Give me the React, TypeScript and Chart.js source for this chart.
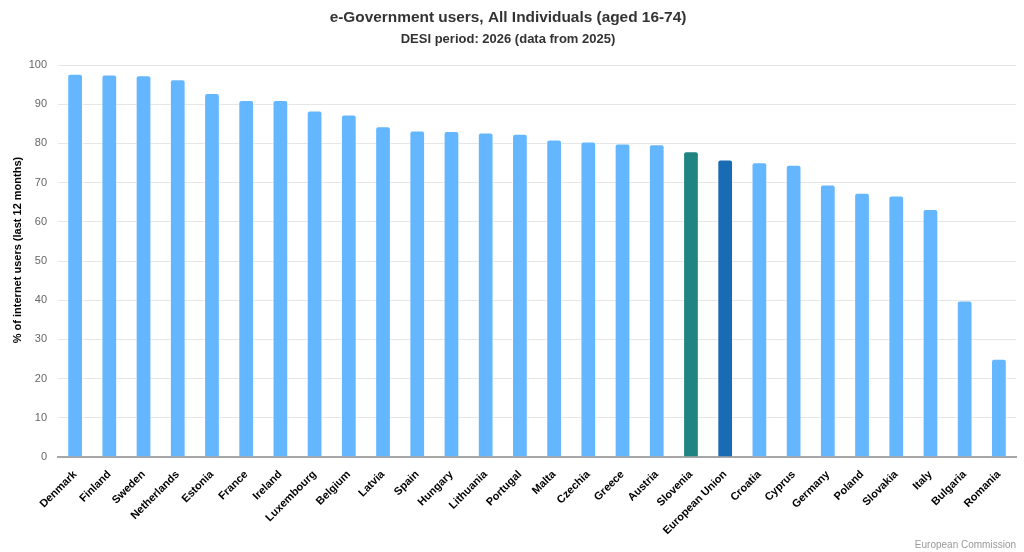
import React, { useEffect, useRef } from "react";
import { Chart, registerables } from "chart.js";

Chart.register(...registerables);

const countries = [
  "Denmark", "Finland", "Sweden", "Netherlands", "Estonia", "France", "Ireland",
  "Luxembourg", "Belgium", "Latvia", "Spain", "Hungary", "Lithuania", "Portugal",
  "Malta", "Czechia", "Greece", "Austria", "Slovenia", "European Union", "Croatia",
  "Cyprus", "Germany", "Poland", "Slovakia", "Italy", "Bulgaria", "Romania",
];

const values = [
  97.8, 97.6, 97.4, 96.4, 92.9, 91.1, 91.1, 88.4, 87.4, 84.4, 83.3, 83.2, 82.8,
  82.5, 81.0, 80.5, 80.0, 79.8, 78.0, 75.9, 75.2, 74.6, 69.5, 67.4, 66.7, 63.3,
  39.9, 25.1,
];

const yTicks = [0, 10, 20, 30, 40, 50, 60, 70, 80, 90, 100];

const yTitle = "% of internet users (last 12 months)";
const credit = "European Commission";

const FONT = "'Liberation Sans', Arial, Helvetica, sans-serif";
const BASE = "#64b6ff";
const FOCUS = "#1f8482";
const EU = "#196bb3";

const textPlugin = {
  id: "extraText",
  afterDraw(chart: any) {
    const ctx = chart.ctx;
    ctx.save();
    ctx.font = `10px ${FONT}`;
    ctx.fillStyle = "#999999";
    ctx.textAlign = "right";
    ctx.textBaseline = "middle";
    ctx.fillText(credit, chart.chartArea.right, 545);

    ctx.translate(18, 250);
    ctx.rotate(-Math.PI / 2);
    ctx.font = `bold 11px ${FONT}`;
    ctx.fillStyle = "#000000";
    ctx.textAlign = "center";
    ctx.fillText(yTitle, 0, 0);
    ctx.restore();
  },
};

export default function App() {
  const ref = useRef<HTMLCanvasElement | null>(null);

  useEffect(() => {
    document.body.style.margin = "0";
    if (!ref.current) return;
    const colors = countries.map((c) =>
      c === "Slovenia" ? FOCUS : c === "European Union" ? EU : BASE
    );
    const chart = new Chart(ref.current, {
      type: "bar",
      data: {
        labels: countries,
        datasets: [
          {
            data: values,
            backgroundColor: colors,
            borderColor: "rgba(255,255,255,0.55)",
            borderWidth: 1,
            borderSkipped: "bottom",
            borderRadius: { topLeft: 3, topRight: 3, bottomLeft: 0, bottomRight: 0 },
            barPercentage: 0.92,
            categoryPercentage: 0.5,
          },
        ],
      },
      options: {
        animation: false,
        responsive: true,
        maintainAspectRatio: false,
        layout: { padding: { left: 0, right: 8, top: 0, bottom: 0 } },
        plugins: {
          legend: { display: false },
          tooltip: { enabled: false },
          title: {
            display: true,
            text: "e-Government users, All Individuals (aged 16-74)",
            color: "#333333",
            font: { family: FONT, size: 15.4, weight: "bold" },
            padding: { top: 9, bottom: 0 },
          },
          subtitle: {
            display: true,
            text: "DESI period: 2026 (data from 2025)",
            color: "#333333",
            font: { family: FONT, size: 13, weight: "bold" },
            padding: { top: 4, bottom: 18 },
          },
        },
        scales: {
          x: {
            grid: { display: false, drawTicks: false },
            border: { display: true, color: "#a6a6a6", width: 2 },
            ticks: {
              color: "#000000",
              font: { family: FONT, size: 11, weight: "bold" },
              maxRotation: 45,
              minRotation: 45,
              autoSkip: false,
              padding: 11,
            },
            afterFit(scale: any) {
              scale.height = 95;
            },
          },
          y: {
            min: 0,
            max: 100,
            afterBuildTicks(scale: any) {
              scale.ticks = yTicks.map((v) => ({ value: v }));
            },
            grid: { color: "#e6e6e6", lineWidth: 1, drawTicks: false },
            border: { display: false },
            ticks: {
              color: "#666666",
              font: { family: FONT, size: 11 },
              padding: 11,
            },
            afterFit(scale: any) {
              scale.width = 58;
            },
          },
        },
      },
      plugins: [textPlugin],
    });
    return () => chart.destroy();
  }, []);

  return (
    <div style={{ position: "fixed", left: 0, top: 0, width: 1024, height: 552 }}>
      <canvas ref={ref} />
    </div>
  );
}
